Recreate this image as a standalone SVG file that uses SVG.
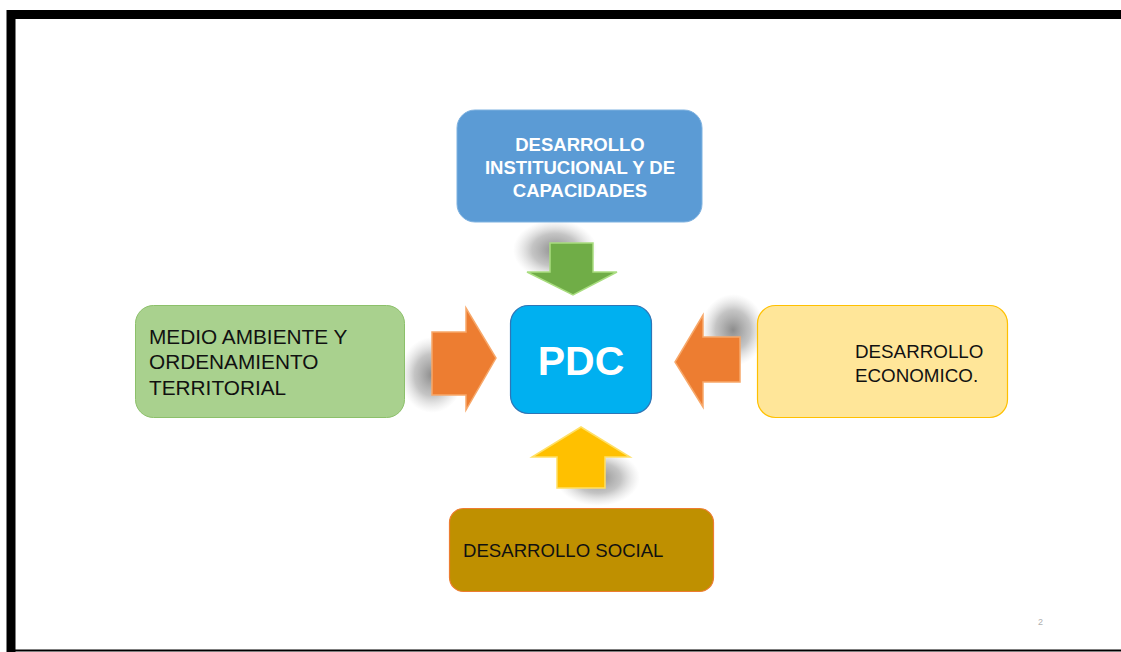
<svg xmlns="http://www.w3.org/2000/svg" width="1121" height="652" viewBox="0 0 1121 652">
<defs>
<radialGradient id="shg">
<stop offset="0" stop-color="#707070" stop-opacity="0.8"/>
<stop offset="0.55" stop-color="#8a8a8a" stop-opacity="0.5"/>
<stop offset="1" stop-color="#bbbbbb" stop-opacity="0"/>
</radialGradient>
<style>
.lbl{font-family:"Liberation Sans",Arial,sans-serif;}
.w{fill:#ffffff;font-weight:bold;}
.k{fill:#111111;}
.sh{fill:url(#shg);}
</style>
</defs>
<rect x="0" y="0" width="1121" height="652" fill="#ffffff"/>
<path d="M11 652 V14.5 H1121" fill="none" stroke="#000" stroke-width="9"/>
<line x1="11" y1="650.5" x2="1121" y2="650.5" stroke="#000" stroke-width="2"/>
<g id="connectors">
  <ellipse class="sh" cx="555" cy="250" rx="42" ry="30"/>
  <ellipse class="sh" cx="432" cy="375" rx="32" ry="38"/>
  <ellipse class="sh" cx="733" cy="330" rx="32" ry="36"/>
  <ellipse class="sh" cx="598" cy="478" rx="42" ry="28"/>
  <polygon points="550,243 593,243 593,272 617,272 573,295 527,272 550,272" fill="#70AD47" stroke="#a9dd80" stroke-width="1.5"/>
  <polygon points="432,332 466,332 466,308 496,358 466,410 466,395 432,395" fill="#ED7D31" stroke="#f7a86a" stroke-width="1.5"/>
  <polygon points="740,337 703,337 703,315 675,362 703,407 703,382 740,382" fill="#ED7D31" stroke="#f7a86a" stroke-width="1.5"/>
  <polygon points="581,427 630,457 605,457 605,488 557,488 557,457 532,457" fill="#FFC000" stroke="#ffe066" stroke-width="1.5"/>
</g>
<g id="node-institucional">
  <rect x="457" y="110" width="245" height="112" rx="18" fill="#5B9BD5" stroke="#7fb2e0" stroke-width="1"/>
  <text class="lbl w" font-size="18.5" text-anchor="middle" x="580" y="151">DESARROLLO</text>
  <text class="lbl w" font-size="18.5" text-anchor="middle" x="580" y="174">INSTITUCIONAL Y DE</text>
  <text class="lbl w" font-size="18.5" text-anchor="middle" x="580" y="197">CAPACIDADES</text>
</g>
<g id="node-pdc">
  <rect x="510.5" y="305.5" width="141" height="108" rx="18" fill="#00B0F0" stroke="#2E75B6" stroke-width="1.2"/>
  <text class="lbl w" font-size="41" text-anchor="middle" x="581" y="375">PDC</text>
</g>
<g id="node-medio-ambiente">
  <rect x="135.5" y="305.5" width="269" height="112" rx="18" fill="#A9D18E" stroke="#8cc06a" stroke-width="1"/>
  <text class="lbl k" font-size="20.8" x="149" y="344">MEDIO AMBIENTE Y</text>
  <text class="lbl k" font-size="20.8" x="149" y="369">ORDENAMIENTO</text>
  <text class="lbl k" font-size="20.8" x="149" y="395">TERRITORIAL</text>
</g>
<g id="node-economico">
  <rect x="757.5" y="305.5" width="250" height="112" rx="18" fill="#FFE699" stroke="#FFC000" stroke-width="1.2"/>
  <text class="lbl k" font-size="18.8" x="855" y="358">DESARROLLO</text>
  <text class="lbl k" font-size="18.8" x="855" y="382">ECONOMICO.</text>
</g>
<g id="node-social">
  <rect x="449.5" y="508.5" width="264" height="83" rx="14" fill="#BF9000" stroke="#ED7D31" stroke-width="1.2"/>
  <text class="lbl k" font-size="18.6" x="463" y="557">DESARROLLO SOCIAL</text>
</g>
<text class="lbl" font-size="9" fill="#b0b0b0" x="1038" y="625">2</text>
</svg>
